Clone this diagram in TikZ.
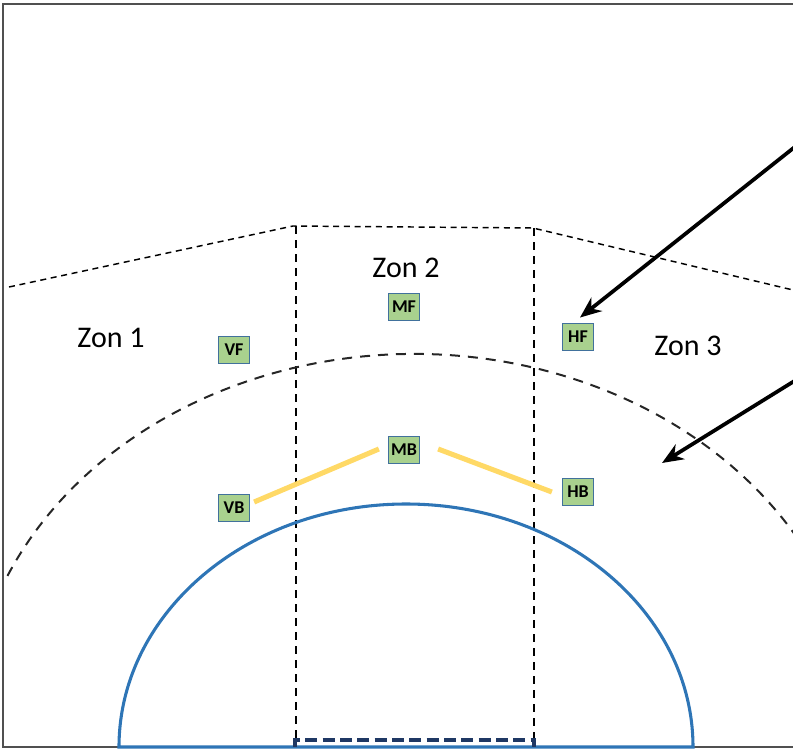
\documentclass[tikz,border=0pt]{standalone}
\usepackage{fontspec}
\setmainfont{Carlito}
\usetikzlibrary{arrows.meta}
\definecolor{boxfill}{RGB}{169,209,142}
\definecolor{boxline}{RGB}{65,113,156}
\definecolor{arcblue}{RGB}{46,117,182}
\definecolor{navyline}{RGB}{31,56,100}
\definecolor{yelline}{RGB}{255,217,102}
\definecolor{framegray}{RGB}{80,80,80}
\begin{document}
\begin{tikzpicture}[x=0.75pt,y=-0.75pt,
  posbox/.style={draw=boxline, fill=boxfill, line width=1.2pt, minimum width=23pt, minimum height=20.5pt, inner sep=0pt, font=\fontsize{13.5}{13.5}\selectfont\bfseries},
  zone/.style={font=\fontsize{22.5}{22.5}\selectfont, anchor=base, inner sep=0pt},
  vdash/.style={dash pattern=on 6pt off 4.5pt, line width=1.1pt},
  tdash/.style={dash pattern=on 4.5pt off 3.5pt, line width=1.1pt},
  adash/.style={dash pattern=on 7.5pt off 6pt, line width=1.5pt, color=black!85},
  yel/.style={yelline, line width=3.8pt},
  bigarrow/.style={line width=2.8pt, -{Stealth[length=16pt, width=13pt]}}]
\useasboundingbox (0,0) rectangle (793,750);
\begin{scope}
\clip (0,0) rectangle (793,750);
% frame
\draw[framegray, line width=1.8pt] (793,4) -- (3,4) -- (3,747) -- (793,747);
% top dashed polyline
\draw[tdash] (9,287) -- (293,226) -- (533,228) -- (793,290);
% vertical dashed lines
\draw[vdash] (296,226) -- (296,740);
\draw[vdash] (534,228) -- (534,740);
% dashed arc
\draw[adash] (414,728) ++(204:445 and 374) arc[start angle=204, end angle=329, x radius=445, y radius=374];
% semicircle
\draw[arcblue, line width=2.3pt] (119,747) arc[start angle=180, end angle=360, x radius=287, y radius=243] -- cycle;
% bottom dashed rectangle
\draw[navyline, line width=2.4pt, dash pattern=on 9pt off 4pt] (295,747) -- (295,740) -- (534,740) -- (534,747);
\end{scope}
% zone labels
\node[zone] (z1) at (111,347) {Zon 1};
\node[zone] (z2) at (406,277) {Zon 2};
\node[zone] (z3) at (688,355) {Zon 3};
% position boxes
\node[posbox] (VF) at (234,350) {VF};
\node[posbox] (MF) at (404,307) {MF};
\node[posbox] (HF) at (578,337) {HF};
\node[posbox] (MB) at (404,450) {MB};
\node[posbox] (VB) at (234,508) {VB};
\node[posbox] (HB) at (578,492) {HB};
% yellow lines
\draw[yel] ([shift={(4,-6)}]VB.east) -- ([shift={(-9,-1)}]MB.west);
\draw[yel] ([shift={(18,-1)}]MB.east) -- ([shift={(-10,0)}]HB.west);
% arrows
\coordinate (s1) at (796,146);
\coordinate (s2) at (796,380);
\coordinate (t2) at (662,463);
\draw[bigarrow] (s1) -- ([shift={(2,-5)}]HF.north);
\draw[bigarrow] (s2) -- (t2);
\end{tikzpicture}
\end{document}
